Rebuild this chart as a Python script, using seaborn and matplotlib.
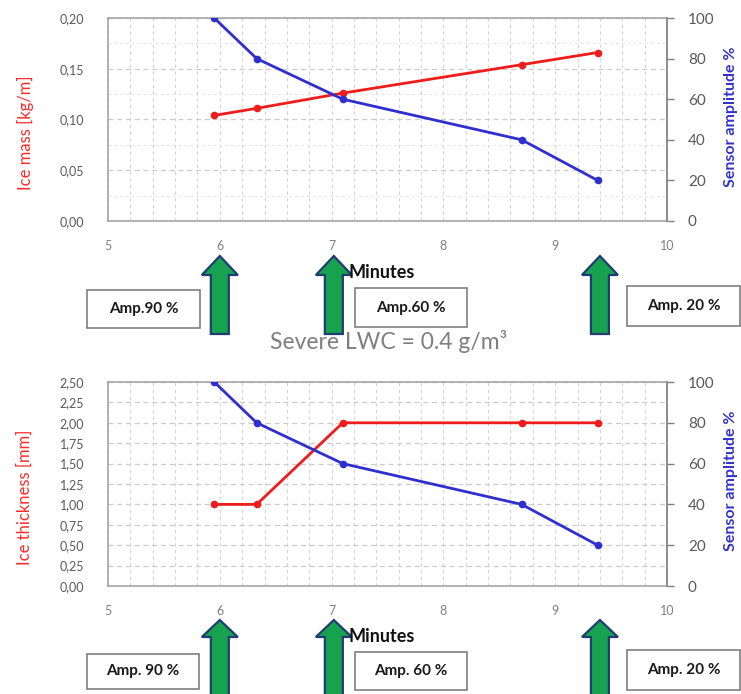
import numpy as np
import pandas as pd
import matplotlib
matplotlib.use("Agg")
import matplotlib.pyplot as plt
import seaborn as sns
from matplotlib.patches import Polygon, Rectangle
from matplotlib.ticker import MultipleLocator, FuncFormatter, FixedLocator

# ---------------- data ----------------
minutes = [5.95, 6.33, 7.1, 8.7, 9.38]
ice_mass = [0.104, 0.111, 0.126, 0.154, 0.166]
amp_top = [100, 80, 60, 40, 20]
ice_thickness = [1.0, 1.0, 2.0, 2.0, 2.0]
amp_bottom = [100, 80, 60, 40, 20]
x_ticks = [5, 6, 7, 8, 9, 10]
amp_ticks = [0, 20, 40, 60, 80, 100]
arrow_minutes = [6.0, 7.02, 9.4]
box_labels_top = ["Amp.90 %", "Amp.60 %", "Amp. 20 %"]
box_labels_bottom = ["Amp. 90 %", "Amp. 60 %", "Amp. 20 %"]
title_mid = "Severe LWC = 0.4 g/m³"

sns.set_style("white")
plt.rcParams['font.family'] = ['Lato', 'DejaVu Sans']

W, H = 741, 694
fig = plt.figure(figsize=(W / 100, H / 100), dpi=100)


def fx(px):
    return px / W


def fy(py):
    return 1 - py / H


RED = '#ee1c1c'
BLUE = '#2f2fd0'
TICK_TXT = '#595959'
SPINE = '#a6a6a6'
GRID = '#d4d4d4'


def comma_fmt(v, p):
    return f"{v:.2f}".replace('.', ',')


def make_panel(top_px, bottom_px, left_y, right_y, left_max, left_major,
               left_minor, left_label, right_label):
    ax = fig.add_axes([fx(108), fy(bottom_px), fx(667) - fx(108),
                       fy(top_px) - fy(bottom_px)])
    df = pd.DataFrame({"Minutes": minutes, "left": left_y, "right": right_y})
    sns.lineplot(data=df, x="Minutes", y="left", ax=ax, color=RED, lw=2.0,
                 marker='o', markersize=5.5, markeredgewidth=0, zorder=3)
    ax.set_xlim(5, 10)
    ax.set_ylim(0, left_max)
    ax.xaxis.set_major_locator(FixedLocator(x_ticks))
    ax.xaxis.set_minor_locator(MultipleLocator(0.2))
    ax.yaxis.set_major_locator(MultipleLocator(left_major))
    if left_minor:
        ax.yaxis.set_minor_locator(MultipleLocator(left_minor))
    ax.yaxis.set_major_formatter(FuncFormatter(comma_fmt))
    ax.grid(which='both', axis='x', ls=(0, (3, 3)), color=GRID, lw=0.8)
    ax.grid(which='major', axis='y', ls=(0, (4, 3)), color='#cccccc', lw=0.9)
    if left_minor:
        ax.grid(which='minor', axis='y', ls=(0, (3, 3)), color='#e6e6e6', lw=0.7)
    ax.tick_params(axis='y', which='both', length=0, pad=17, labelsize=9,
                   labelcolor=TICK_TXT)
    ax.tick_params(axis='x', which='both', length=0, pad=14, labelsize=9,
                   labelcolor='#808080')
    ax.set_xlabel("")
    ax.set_ylabel("")
    for s in ax.spines.values():
        s.set_color(SPINE)
        s.set_linewidth(1.2)

    ax2 = ax.twinx()
    sns.lineplot(data=df, x="Minutes", y="right", ax=ax2, color=BLUE, lw=2.0,
                 marker='o', markersize=5.5, markeredgewidth=0, zorder=3)
    ax2.set_ylim(0, 100)
    ax2.yaxis.set_major_locator(FixedLocator(amp_ticks))
    ax2.tick_params(axis='y', direction='out', length=5, width=1,
                    color='#7f7f7f', pad=10, labelsize=11, labelcolor=TICK_TXT)
    ax2.set_ylabel("")
    ax2.set_xlabel("")
    ax2.grid(False)
    for s in ax2.spines.values():
        s.set_visible(False)
    ax2.spines['right'].set_visible(True)
    ax2.spines['right'].set_color('#8c8c8c')
    ax2.spines['right'].set_linewidth(1.3)

    mid = (top_px + bottom_px) / 2
    fig.text(fx(25), fy(mid + 13), left_label, rotation=90, color='#ff2a2a',
             fontsize=12, ha='center', va='center')
    fig.text(fx(731), fy(mid - 3), right_label, rotation=90, color='#3333cc',
             fontsize=11.5, fontweight='bold', ha='center', va='center')
    return ax


def arrow(ax, xm, tip, base, bottom):
    disp = ax.transData.transform((xm, 0))
    cx = disp[0]  # pixels from left
    hw, sw = 18, 9
    pts = [(cx, tip), (cx + hw, base), (cx + sw, base), (cx + sw, bottom),
           (cx - sw, bottom), (cx - sw, base), (cx - hw, base)]
    poly = Polygon([(px / W, fy(py)) for px, py in pts], closed=True,
                   transform=fig.transFigure, facecolor='#17a24f',
                   edgecolor='#1f3d73', lw=1.6, zorder=5)
    fig.add_artist(poly)


def box(x0, x1, y0, y1, label):
    rect = Rectangle((fx(x0), fy(y1)), fx(x1) - fx(x0), fy(y0) - fy(y1),
                     transform=fig.transFigure, facecolor='white',
                     edgecolor='#7f7f7f', lw=1.2, zorder=4)
    fig.add_artist(rect)
    fig.text(fx((x0 + x1) / 2), fy((y0 + y1) / 2), label, ha='center',
             va='center', fontsize=11, fontweight='bold', color='#1a1a1a',
             zorder=6)


ax_top = make_panel(18, 221, ice_mass, amp_top, 0.20, 0.05, 0.025,
                    "Ice mass [kg/m]", "Sensor amplitude %")
ax_bot = make_panel(382, 586, ice_thickness, amp_bottom, 2.50, 0.25, None,
                    "Ice thickness [mm]", "Sensor amplitude %")

# top annotations
for xm in arrow_minutes:
    arrow(ax_top, xm, 256, 275, 334)
fig.text(fx(349), fy(272), "Minutes", fontsize=13, fontweight='bold',
         ha='left', va='center', color='#111111', zorder=6)
top_boxes = [(87, 200, 290, 328), (355, 467, 288, 327), (627, 740, 286, 326)]
for (x0, x1, y0, y1), lab in zip(top_boxes, box_labels_top):
    box(x0, x1, y0, y1, lab)
fig.text(fx(389), fy(341), title_mid, fontsize=16.5, color='#7f7f7f',
         ha='center', va='center')

# bottom annotations
for xm in arrow_minutes:
    arrow(ax_bot, xm, 620, 637, 700)
fig.text(fx(349), fy(637), "Minutes", fontsize=13, fontweight='bold',
         ha='left', va='center', color='#111111', zorder=6)
bot_boxes = [(87, 199, 654, 689), (355, 467, 652, 690), (627, 740, 650, 690)]
for (x0, x1, y0, y1), lab in zip(bot_boxes, box_labels_bottom):
    box(x0, x1, y0, y1, lab)

fig.savefig("out.png", dpi=100)
